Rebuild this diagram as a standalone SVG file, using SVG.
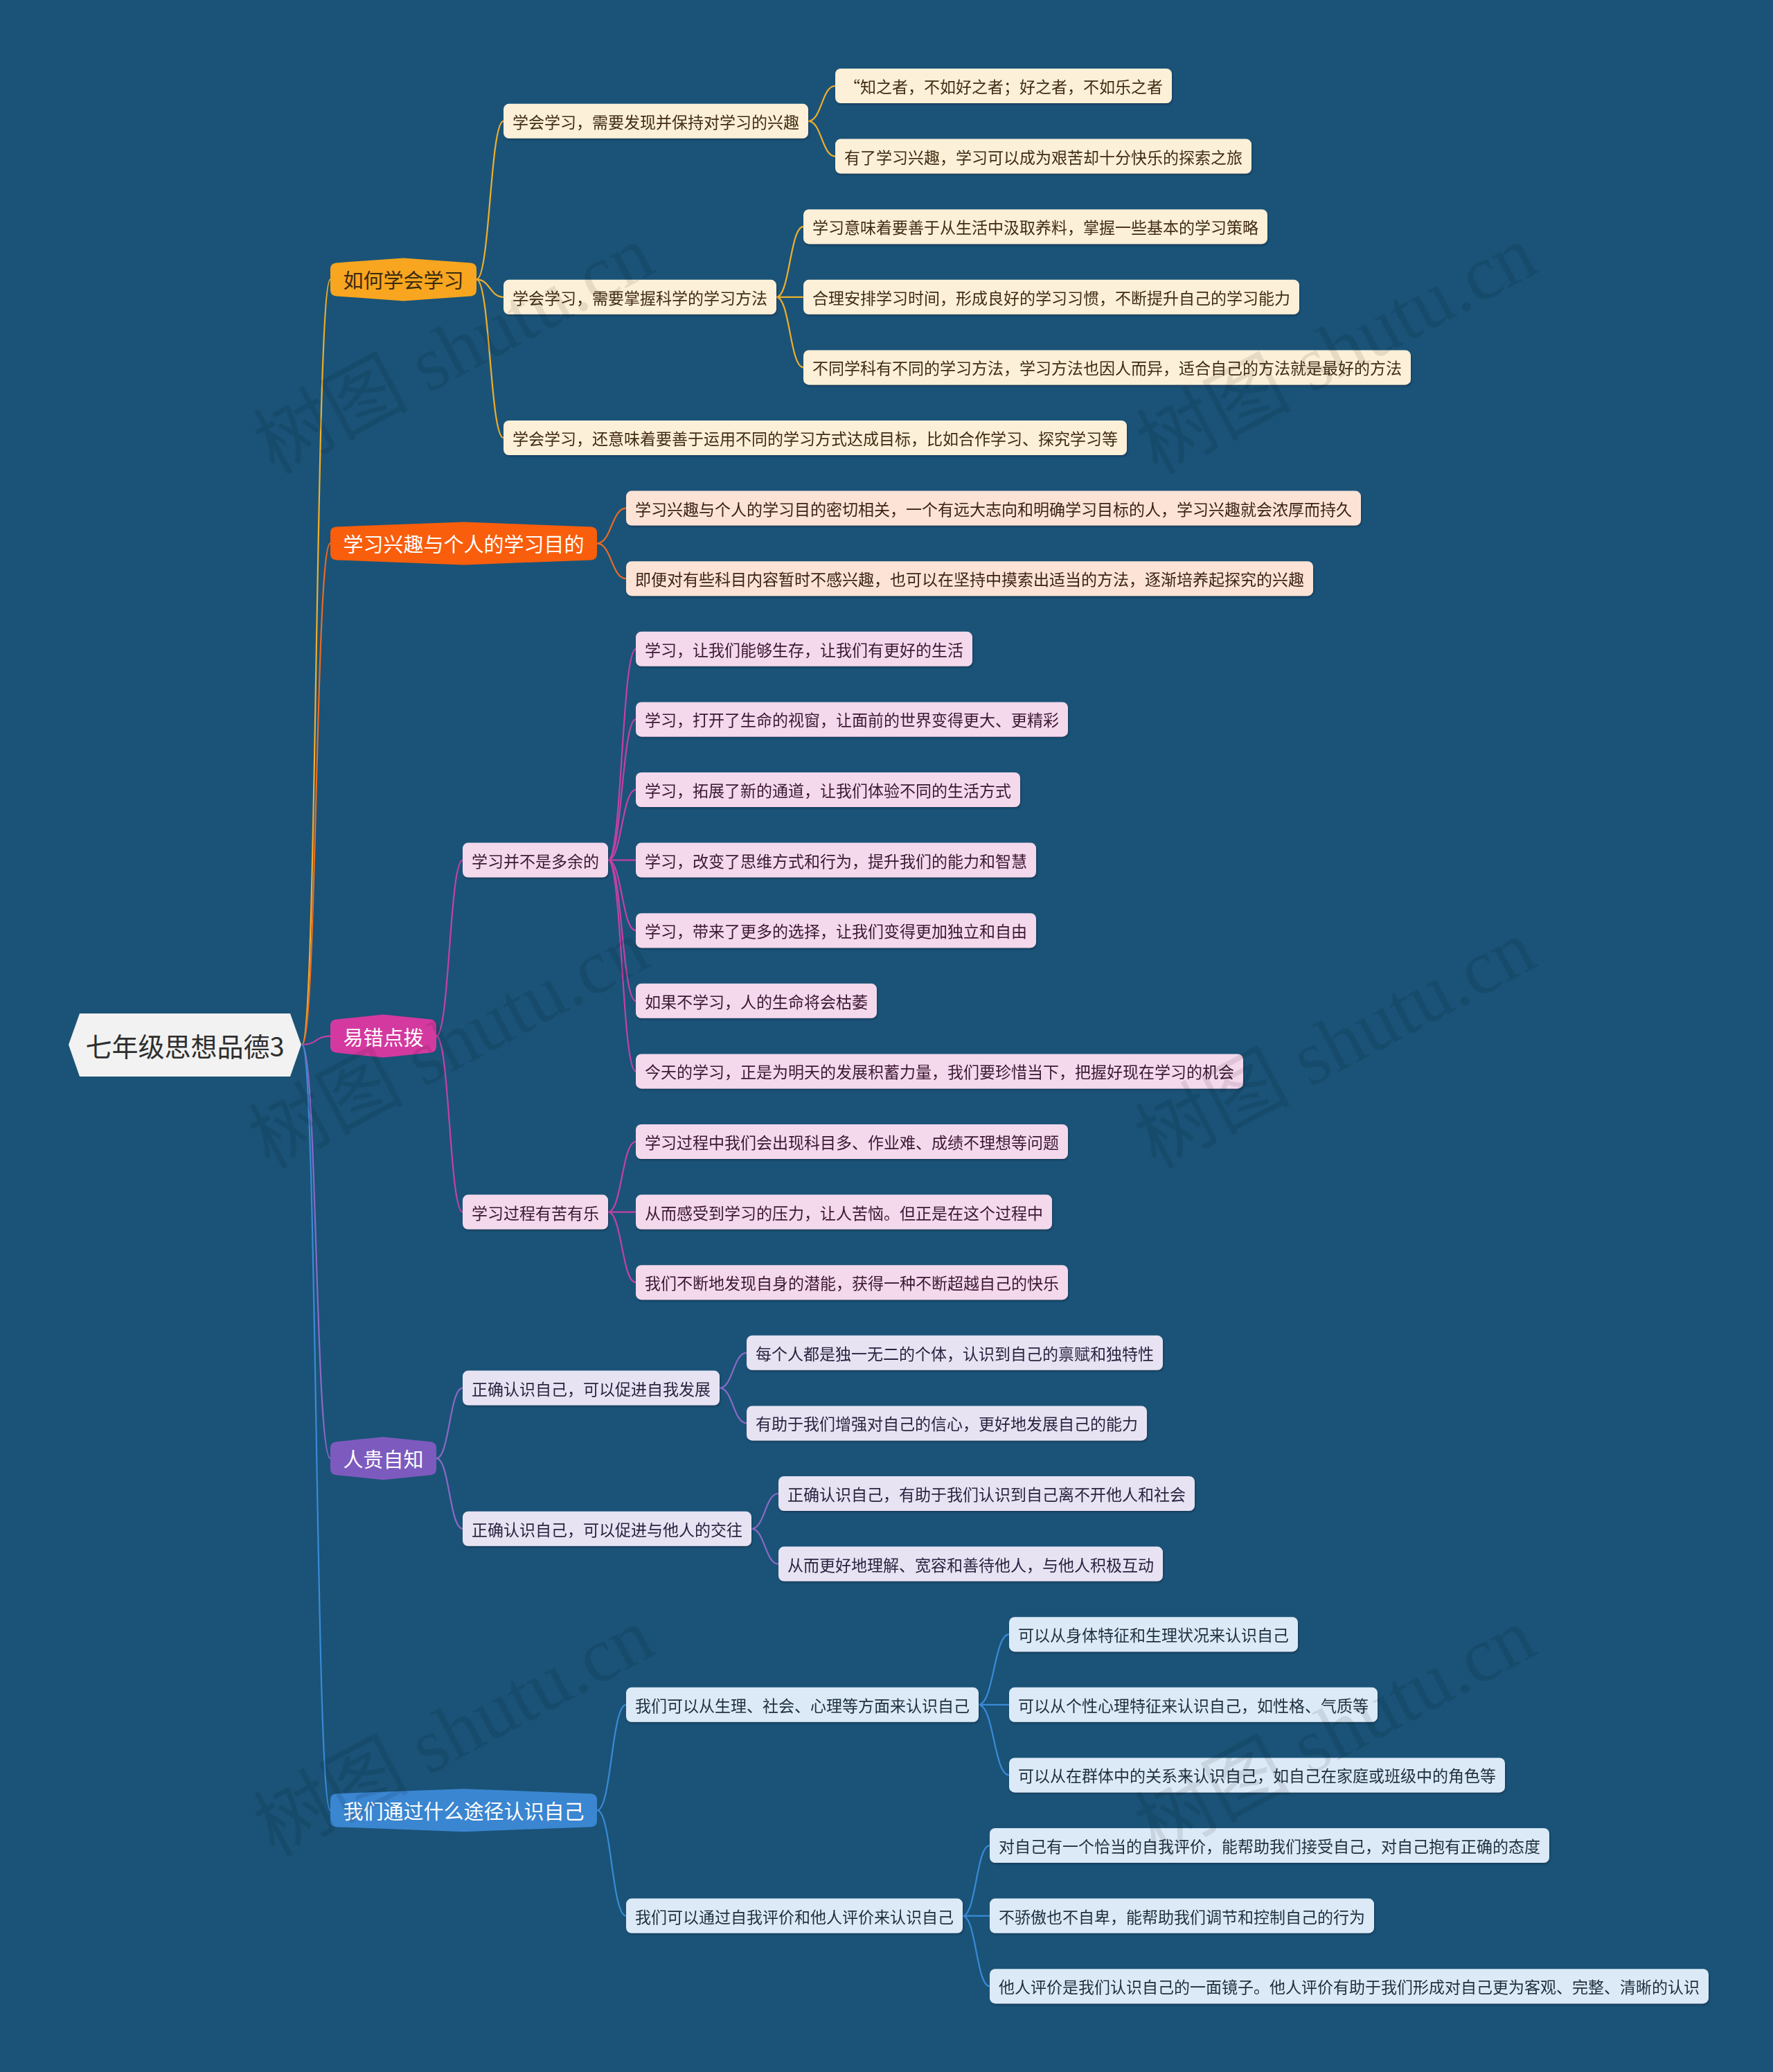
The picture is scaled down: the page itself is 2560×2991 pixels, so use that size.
<svg xmlns="http://www.w3.org/2000/svg" width="2560" height="2991" viewBox="0 0 2560 2991">
<defs>
<style>
text{font-family:"Noto Sans CJK SC","Noto Sans",sans-serif;dominant-baseline:central}
.lf{font-size:23px}
.l1t{font-size:29px;text-anchor:middle}
.cn path{fill:none;stroke-width:2.2}
.ca{stroke:#F0AE2C}.cb{stroke:#EC6A25}.cc{stroke:#C540A6}.cd{stroke:#8B69C6}.ce{stroke:#3A8AD8}
.na rect{fill:#FDF0D8}.na text{fill:#3F2C12}
.nb rect{fill:#FCE3D5}.nb text{fill:#3A2218}
.nc rect{fill:#F4D8EC}.nc text{fill:#3A1832}
.nd rect{fill:#E8E3F3}.nd text{fill:#29233F}
.ne rect{fill:#DCEAF7}.ne text{fill:#1F2E3E}
.wm{font-family:"Liberation Serif","Noto Sans CJK SC",serif;font-size:112px;fill:#000;fill-opacity:0.09;text-anchor:middle}
</style>
<filter id="sh" x="-5%" y="-20%" width="110%" height="150%"><feDropShadow dx="1" dy="2" stdDeviation="1" flood-color="#0B2C44" flood-opacity="0.55"/></filter>
</defs>
<rect width="2560" height="2991" fill="#1A5377"/>

<g id="connectors" class="cn">
<path class="ca" d="M436,1508 C458,1508 455,403.4 477,403.4"/>
<path class="cb" d="M436,1508 C458,1508 455,784.4 477,784.4"/>
<path class="cc" d="M436,1508 C458,1508 455,1495.6 477,1495.6"/>
<path class="cd" d="M436,1508 C458,1508 455,2105.2 477,2105.2"/>
<path class="ce" d="M436,1508 C458,1508 455,2613.2 477,2613.2"/>

<path class="ca" d="M688,403.4 C707.5,403.4 707.5,174.8 727,174.8"/>
<path class="ca" d="M688,403.4 C707.5,403.4 707.5,428.8 727,428.8"/>
<path class="ca" d="M688,403.4 C707.5,403.4 707.5,632 727,632"/>
<path class="ca" d="M1167,174.8 C1186.5,174.8 1186.5,124 1206,124"/>
<path class="ca" d="M1167,174.8 C1186.5,174.8 1186.5,225.6 1206,225.6"/>
<path class="ca" d="M1121,428.8 C1140.5,428.8 1140.5,327.2 1160,327.2"/>
<path class="ca" d="M1121,428.8 C1140.5,428.8 1140.5,428.8 1160,428.8"/>
<path class="ca" d="M1121,428.8 C1140.5,428.8 1140.5,530.4 1160,530.4"/>

<path class="cb" d="M862,784.4 C883,784.4 883,733.6 904,733.6"/>
<path class="cb" d="M862,784.4 C883,784.4 883,835.2 904,835.2"/>

<path class="cc" d="M630,1495.6 C649,1495.6 649,1241.6 668,1241.6"/>
<path class="cc" d="M630,1495.6 C649,1495.6 649,1749.6 668,1749.6"/>
<path class="cc" d="M878,1241.6 C898,1241.6 898,936.8 918,936.8"/>
<path class="cc" d="M878,1241.6 C898,1241.6 898,1038.4 918,1038.4"/>
<path class="cc" d="M878,1241.6 C898,1241.6 898,1140 918,1140"/>
<path class="cc" d="M878,1241.6 C898,1241.6 898,1241.6 918,1241.6"/>
<path class="cc" d="M878,1241.6 C898,1241.6 898,1343.2 918,1343.2"/>
<path class="cc" d="M878,1241.6 C898,1241.6 898,1444.8 918,1444.8"/>
<path class="cc" d="M878,1241.6 C898,1241.6 898,1546.4 918,1546.4"/>
<path class="cc" d="M878,1749.6 C898,1749.6 898,1648 918,1648"/>
<path class="cc" d="M878,1749.6 C898,1749.6 898,1749.6 918,1749.6"/>
<path class="cc" d="M878,1749.6 C898,1749.6 898,1851.2 918,1851.2"/>

<path class="cd" d="M630,2105.2 C649,2105.2 649,2003.6 668,2003.6"/>
<path class="cd" d="M630,2105.2 C649,2105.2 649,2206.8 668,2206.8"/>
<path class="cd" d="M1039,2003.6 C1058.5,2003.6 1058.5,1952.8 1078,1952.8"/>
<path class="cd" d="M1039,2003.6 C1058.5,2003.6 1058.5,2054.4 1078,2054.4"/>
<path class="cd" d="M1085,2206.8 C1104.5,2206.8 1104.5,2156 1124,2156"/>
<path class="cd" d="M1085,2206.8 C1104.5,2206.8 1104.5,2257.6 1124,2257.6"/>

<path class="ce" d="M862,2613.2 C883,2613.2 883,2460.8 904,2460.8"/>
<path class="ce" d="M862,2613.2 C883,2613.2 883,2765.6 904,2765.6"/>
<path class="ce" d="M1413,2460.8 C1435,2460.8 1435,2359.2 1457,2359.2"/>
<path class="ce" d="M1413,2460.8 C1435,2460.8 1435,2460.8 1457,2460.8"/>
<path class="ce" d="M1413,2460.8 C1435,2460.8 1435,2562.4 1457,2562.4"/>
<path class="ce" d="M1390,2765.6 C1409.5,2765.6 1409.5,2664 1429,2664"/>
<path class="ce" d="M1390,2765.6 C1409.5,2765.6 1409.5,2765.6 1429,2765.6"/>
<path class="ce" d="M1390,2765.6 C1409.5,2765.6 1409.5,2867.2 1429,2867.2"/>
</g>

<g id="root">
<polygon points="99,1508 115,1463 419,1463 435,1508 419,1554 115,1554" fill="#F2F2F2"/>
<text x="267" y="1508" font-size="38" fill="#2E2E2E" text-anchor="middle">七年级思想品德3</text>
</g>

<g id="n-a" transform="translate(477,403.4)">
<path d="M0,-15 Q0,-23 8,-24 L105.5,-31 L203,-24 Q211,-23 211,-15 L211,15 Q211,23 203,24 L105.5,31 L8,24 Q0,23 0,15 Z" fill="#F8A51F"/>
<text class="l1t" x="105.5" y="0" fill="#3A2A10">如何学会学习</text>
</g>
<g id="n-b" transform="translate(477,784.4)">
<path d="M0,-15 Q0,-23 8,-24 L192.5,-31 L377,-24 Q385,-23 385,-15 L385,15 Q385,23 377,24 L192.5,31 L8,24 Q0,23 0,15 Z" fill="#F95E0C"/>
<text class="l1t" x="192.5" y="0" fill="#FFFFFF">学习兴趣与个人的学习目的</text>
</g>
<g id="n-c" transform="translate(477,1495.6)">
<path d="M0,-15 Q0,-23 8,-24 L76.5,-31 L145,-24 Q153,-23 153,-15 L153,15 Q153,23 145,24 L76.5,31 L8,24 Q0,23 0,15 Z" fill="#D4399F"/>
<text class="l1t" x="76.5" y="0" fill="#FFFFFF">易错点拨</text>
</g>
<g id="n-d" transform="translate(477,2105.2)">
<path d="M0,-15 Q0,-23 8,-24 L76.5,-31 L145,-24 Q153,-23 153,-15 L153,15 Q153,23 145,24 L76.5,31 L8,24 Q0,23 0,15 Z" fill="#7D5BBE"/>
<text class="l1t" x="76.5" y="0" fill="#FFFFFF">人贵自知</text>
</g>
<g id="n-e" transform="translate(477,2613.2)">
<path d="M0,-15 Q0,-23 8,-24 L192.5,-31 L377,-24 Q385,-23 385,-15 L385,15 Q385,23 377,24 L192.5,31 L8,24 Q0,23 0,15 Z" fill="#3A86D1"/>
<text class="l1t" x="192.5" y="0" fill="#FFFFFF">我们通过什么途径认识自己</text>
</g>

<g class="na" filter="url(#sh)">
<g id="n-a1"><rect x="727" y="149.8" width="440" height="50" rx="8"/><text class="lf" x="740" y="174.8">学会学习，需要发现并保持对学习的兴趣</text></g>
<g id="n-a1a"><rect x="1206" y="99" width="486" height="50" rx="8"/><text class="lf" x="1219" y="124">“知之者，不如好之者；好之者，不如乐之者</text></g>
<g id="n-a1b"><rect x="1206" y="200.6" width="601" height="50" rx="8"/><text class="lf" x="1219" y="225.6">有了学习兴趣，学习可以成为艰苦却十分快乐的探索之旅</text></g>
<g id="n-a2"><rect x="727" y="403.8" width="394" height="50" rx="8"/><text class="lf" x="740" y="428.8">学会学习，需要掌握科学的学习方法</text></g>
<g id="n-a2a"><rect x="1160" y="302.2" width="670" height="50" rx="8"/><text class="lf" x="1173" y="327.2">学习意味着要善于从生活中汲取养料，掌握一些基本的学习策略</text></g>
<g id="n-a2b"><rect x="1160" y="403.8" width="716" height="50" rx="8"/><text class="lf" x="1173" y="428.8">合理安排学习时间，形成良好的学习习惯，不断提升自己的学习能力</text></g>
<g id="n-a2c"><rect x="1160" y="505.4" width="877" height="50" rx="8"/><text class="lf" x="1173" y="530.4">不同学科有不同的学习方法，学习方法也因人而异，适合自己的方法就是最好的方法</text></g>
<g id="n-a3"><rect x="727" y="607" width="900" height="50" rx="8"/><text class="lf" x="740" y="632">学会学习，还意味着要善于运用不同的学习方式达成目标，比如合作学习、探究学习等</text></g>
</g>

<g class="nb" filter="url(#sh)">
<g id="n-b1"><rect x="904" y="708.6" width="1061" height="50" rx="8"/><text class="lf" x="917" y="733.6">学习兴趣与个人的学习目的密切相关，一个有远大志向和明确学习目标的人，学习兴趣就会浓厚而持久</text></g>
<g id="n-b2"><rect x="904" y="810.2" width="992" height="50" rx="8"/><text class="lf" x="917" y="835.2">即便对有些科目内容暂时不感兴趣，也可以在坚持中摸索出适当的方法，逐渐培养起探究的兴趣</text></g>
</g>

<g class="nc" filter="url(#sh)">
<g id="n-c1"><rect x="668" y="1216.6" width="210" height="50" rx="8"/><text class="lf" x="681" y="1241.6">学习并不是多余的</text></g>
<g id="n-c1a"><rect x="918" y="911.8" width="486" height="50" rx="8"/><text class="lf" x="931" y="936.8">学习，让我们能够生存，让我们有更好的生活</text></g>
<g id="n-c1b"><rect x="918" y="1013.4" width="624" height="50" rx="8"/><text class="lf" x="931" y="1038.4">学习，打开了生命的视窗，让面前的世界变得更大、更精彩</text></g>
<g id="n-c1c"><rect x="918" y="1115" width="555" height="50" rx="8"/><text class="lf" x="931" y="1140">学习，拓展了新的通道，让我们体验不同的生活方式</text></g>
<g id="n-c1d"><rect x="918" y="1216.6" width="578" height="50" rx="8"/><text class="lf" x="931" y="1241.6">学习，改变了思维方式和行为，提升我们的能力和智慧</text></g>
<g id="n-c1e"><rect x="918" y="1318.2" width="578" height="50" rx="8"/><text class="lf" x="931" y="1343.2">学习，带来了更多的选择，让我们变得更加独立和自由</text></g>
<g id="n-c1f"><rect x="918" y="1419.8" width="348" height="50" rx="8"/><text class="lf" x="931" y="1444.8">如果不学习，人的生命将会枯萎</text></g>
<g id="n-c1g"><rect x="918" y="1521.4" width="877" height="50" rx="8"/><text class="lf" x="931" y="1546.4">今天的学习，正是为明天的发展积蓄力量，我们要珍惜当下，把握好现在学习的机会</text></g>
<g id="n-c2"><rect x="668" y="1724.6" width="210" height="50" rx="8"/><text class="lf" x="681" y="1749.6">学习过程有苦有乐</text></g>
<g id="n-c2a"><rect x="918" y="1623" width="624" height="50" rx="8"/><text class="lf" x="931" y="1648">学习过程中我们会出现科目多、作业难、成绩不理想等问题</text></g>
<g id="n-c2b"><rect x="918" y="1724.6" width="601" height="50" rx="8"/><text class="lf" x="931" y="1749.6">从而感受到学习的压力，让人苦恼。但正是在这个过程中</text></g>
<g id="n-c2c"><rect x="918" y="1826.2" width="624" height="50" rx="8"/><text class="lf" x="931" y="1851.2">我们不断地发现自身的潜能，获得一种不断超越自己的快乐</text></g>
</g>

<g class="nd" filter="url(#sh)">
<g id="n-d1"><rect x="668" y="1978.6" width="371" height="50" rx="8"/><text class="lf" x="681" y="2003.6">正确认识自己，可以促进自我发展</text></g>
<g id="n-d1a"><rect x="1078" y="1927.8" width="601" height="50" rx="8"/><text class="lf" x="1091" y="1952.8">每个人都是独一无二的个体，认识到自己的禀赋和独特性</text></g>
<g id="n-d1b"><rect x="1078" y="2029.4" width="578" height="50" rx="8"/><text class="lf" x="1091" y="2054.4">有助于我们增强对自己的信心，更好地发展自己的能力</text></g>
<g id="n-d2"><rect x="668" y="2181.8" width="417" height="50" rx="8"/><text class="lf" x="681" y="2206.8">正确认识自己，可以促进与他人的交往</text></g>
<g id="n-d2a"><rect x="1124" y="2131" width="601" height="50" rx="8"/><text class="lf" x="1137" y="2156">正确认识自己，有助于我们认识到自己离不开他人和社会</text></g>
<g id="n-d2b"><rect x="1124" y="2232.6" width="555" height="50" rx="8"/><text class="lf" x="1137" y="2257.6">从而更好地理解、宽容和善待他人，与他人积极互动</text></g>
</g>

<g class="ne" filter="url(#sh)">
<g id="n-e1"><rect x="904" y="2435.8" width="509" height="50" rx="8"/><text class="lf" x="917" y="2460.8">我们可以从生理、社会、心理等方面来认识自己</text></g>
<g id="n-e1a"><rect x="1457" y="2334.2" width="417" height="50" rx="8"/><text class="lf" x="1470" y="2359.2">可以从身体特征和生理状况来认识自己</text></g>
<g id="n-e1b"><rect x="1457" y="2435.8" width="532" height="50" rx="8"/><text class="lf" x="1470" y="2460.8">可以从个性心理特征来认识自己，如性格、气质等</text></g>
<g id="n-e1c"><rect x="1457" y="2537.4" width="716" height="50" rx="8"/><text class="lf" x="1470" y="2562.4">可以从在群体中的关系来认识自己，如自己在家庭或班级中的角色等</text></g>
<g id="n-e2"><rect x="904" y="2740.6" width="486" height="50" rx="8"/><text class="lf" x="917" y="2765.6">我们可以通过自我评价和他人评价来认识自己</text></g>
<g id="n-e2a"><rect x="1429" y="2639" width="808" height="50" rx="8"/><text class="lf" x="1442" y="2664">对自己有一个恰当的自我评价，能帮助我们接受自己，对自己抱有正确的态度</text></g>
<g id="n-e2b"><rect x="1429" y="2740.6" width="555" height="50" rx="8"/><text class="lf" x="1442" y="2765.6">不骄傲也不自卑，能帮助我们调节和控制自己的行为</text></g>
<g id="n-e2c"><rect x="1429" y="2842.2" width="1038" height="50" rx="8"/><text class="lf" x="1442" y="2867.2">他人评价是我们认识自己的一面镜子。他人评价有助于我们形成对自己更为客观、完整、清晰的认识</text></g>
</g>

<g id="watermarks">
<text class="wm" transform="translate(655,505) rotate(-28)">树图 shutu.cn</text>
<text class="wm" transform="translate(1930,505) rotate(-28)">树图 shutu.cn</text>
<text class="wm" transform="translate(648,1507) rotate(-28)">树图 shutu.cn</text>
<text class="wm" transform="translate(1928,1507) rotate(-28)">树图 shutu.cn</text>
<text class="wm" transform="translate(655,2500) rotate(-28)">树图 shutu.cn</text>
<text class="wm" transform="translate(1928,2500) rotate(-28)">树图 shutu.cn</text>
</g>
</svg>
